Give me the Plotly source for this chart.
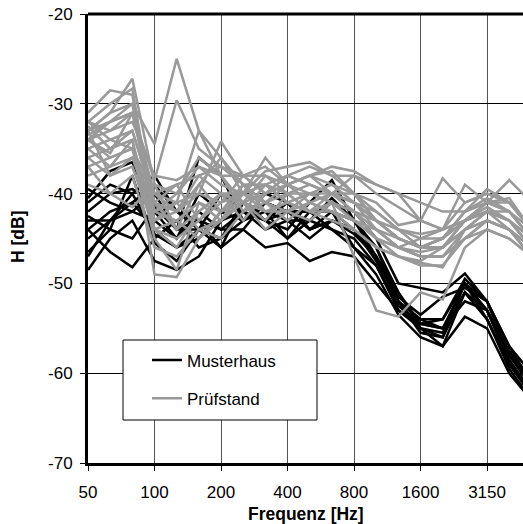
import plotly.graph_objects as go

freqs = ["50", "63", "80", "100", "125", "160", "200", "250", "315", "400", "500",
         "630", "800", "1000", "1250", "1600", "2000", "2500", "3150", "4000", "5000"]
tick_labels = ["50", "100", "200", "400", "800", "1600", "3150"]
y_ticks = [-70, -60, -50, -40, -30, -20]
y_tick_labels = ["-70", "-60", "-50", "-40", "-30", "-20"]

musterhaus = [
    [-40.5, -37.5, -36.5, -42, -45, -40, -42, -43, -41, -42, -43, -40.5, -43, -46, -51, -55, -55.5, -50, -52, -58, -61],
    [-44, -42, -41, -39, -42, -44, -40, -42, -43, -41, -44, -42, -44, -47, -52, -55.5, -56, -51, -53, -58.5, -62],
    [-46.5, -44, -38, -45.5, -47.5, -44, -46, -41, -42, -45, -43, -41, -42, -45, -50, -50.5, -51, -48.9, -52, -57, -60],
    [-48.5, -45, -43, -47.5, -48.5, -47, -43, -42, -44, -43, -43, -44, -45, -48, -53, -55, -57, -51, -54, -59, -62.5],
    [-42, -40, -39.5, -41, -44, -36, -38, -43, -41, -42, -42, -44, -46, -48, -52.5, -54.5, -54, -49.5, -52, -58, -61],
    [-39.5, -41, -42, -40, -44, -44, -45, -43, -42, -43, -45, -43, -44, -47, -51.5, -53.5, -51.5, -50.5, -52, -57, -61],
    [-44, -46.5, -48.2, -45, -43, -46, -45, -41, -43, -44, -41, -38.5, -43, -46, -52, -55, -56, -50, -53, -59, -62],
    [-41, -39, -40, -38, -42, -43, -46, -44, -46, -45.5, -47.5, -46.5, -47, -50, -53, -54.5, -55, -51, -54, -59.5, -63],
    [-42.5, -44, -45, -41.5, -44, -43, -44, -44, -41, -42, -44, -43, -44, -47.5, -52, -54, -55, -52, -53, -57.5, -61],
    [-45, -43, -42, -43, -45, -42, -44, -42, -43, -42, -42, -42, -43, -47, -52, -54, -54, -50, -53, -58, -61.5],
    [-43, -43, -40, -44.5, -46, -45, -42, -43, -40, -41, -44, -43, -44.5, -47, -51, -54.5, -55, -50, -54, -59, -62],
    [-47, -43, -41, -44, -46, -44, -43, -41, -43, -45, -42, -42, -46, -49, -53.5, -56, -57, -53.7, -55, -60, -63],
]

pruefstand = [
    [-33, -32, -30, -34.5, -25, -33, -38, -38, -40, -38, -39, -40, -40, -42, -44, -45, -45, -42, -41, -42, -45],
    [-34, -33, -31, -38.5, -29.6, -35, -37, -39, -41, -39, -38, -40, -42, -43, -45, -46, -45, -43, -42, -43, -46],
    [-33, -31, -27.2, -39, -40, -37, -38, -41, -38, -40, -40, -39, -41, -42, -44, -44.5, -44, -41, -40, -41, -44],
    [-31, -28.5, -29, -42, -41, -33, -36, -39, -39, -38, -37, -38, -40, -43, -45, -46, -46, -43, -41.5, -43, -45],
    [-32, -30, -28.3, -43, -42, -40, -34.2, -38, -38, -39, -40, -40, -41, -43, -44, -46, -46, -43, -42, -42, -45],
    [-33.5, -32, -31, -40, -39, -43, -40, -40, -36, -39, -38, -37.5, -40, -43, -45, -46, -45, -42, -40.5, -42, -44],
    [-35, -34, -33, -41, -42, -38, -40, -41, -40, -39, -38, -39, -40, -41, -43.5, -43, -38.3, -41, -40, -41, -44],
    [-32.5, -35, -34, -44, -43, -45, -42, -39, -41, -40, -42, -40, -38, -40, -41.5, -43, -44, -43, -41, -40.5, -44],
    [-34, -36, -35, -45, -48.5, -41, -43, -39, -42, -41, -40, -41, -42, -44, -46, -47, -47, -45, -43, -44, -47],
    [-36, -35, -33, -41, -44, -39, -36, -40, -37.5, -37, -36.5, -38, -38, -39, -40, -43, -44, -39, -41, -38.5, -41],
    [-38, -37, -34, -49, -49.3, -45, -43, -40, -42, -41, -42, -43, -44, -46, -47, -48, -48, -45, -44, -45, -47],
    [-33, -38, -36, -40, -41, -44, -45, -42, -41, -43, -41, -40, -42, -45, -47, -47.5, -46, -44, -43, -44, -46],
    [-37, -40, -41.5, -39, -44, -42, -40, -41, -42, -42, -43, -41, -43, -45, -46, -47, -47, -44, -42, -43, -46],
    [-34, -35.5, -31, -42, -40, -36, -38, -42, -39, -40, -39, -40, -41, -44, -46, -46.5, -46, -43, -42, -44, -47],
    [-35, -37, -36, -43, -41, -40, -41, -38, -40, -39, -41, -42, -43, -44, -45, -46, -45, -43, -42, -43, -45],
    [-32, -33, -32, -38, -38.5, -37, -39, -40, -39, -41, -40, -41, -43, -45, -46, -45, -44, -43, -41, -41, -44],
    [-33, -31, -30, -44, -46, -42, -40, -43, -40, -38, -39, -40, -41, -43, -45, -46, -45, -42, -41, -42, -45],
    [-36, -38, -37, -44, -45, -43, -41, -40, -41, -42, -40, -41, -47, -53, -53.7, -51, -51.8, -46, -44, -45, -47],
    [-37, -36, -35, -42, -43, -41, -42, -41, -43, -40, -42, -42, -44, -46, -47, -47.7, -48.2, -44, -43, -44, -46],
    [-34, -32, -31, -41, -39, -38, -37, -38, -37, -39, -38, -37, -37.5, -39, -40, -41, -42, -42, -39.5, -41, -44],
    [-39, -40, -38, -46, -47, -44, -43, -41, -44, -42, -41, -42, -43, -44, -46, -47, -47, -45, -43, -44, -46],
    [-32, -34, -35, -40, -42, -39, -42, -40, -39, -41, -42, -41, -42, -43, -45, -46, -46, -44, -42, -43, -46],
]

fig = go.Figure()
for i, ys in enumerate(musterhaus):
    fig.add_trace(go.Scatter(x=freqs, y=ys, mode="lines", name="Musterhaus",
                             line=dict(color="black", width=2.5),
                             legendgroup="m", showlegend=(i == 0)))
for i, ys in enumerate(pruefstand):
    fig.add_trace(go.Scatter(x=freqs, y=ys, mode="lines", name="Prüfstand",
                             line=dict(color="#999999", width=2.5),
                             legendgroup="p", showlegend=(i == 0)))

W, H = 523, 524
L, T = 88, 14
R_EDGE = 523        # plot area right edge (chart is cropped there)
B_EDGE = 463        # plot area bottom
plot_w = R_EDGE - L
plot_h = B_EDGE - T
step = 22.17        # px per third-octave band


def px(sx):
    return (sx - L) / plot_w


def py(sy):
    return (B_EDGE - sy) / plot_h


FAM = "Liberation Sans, Arial, sans-serif"
font = dict(family=FAM, size=17, color="black")
bold = dict(family=FAM, size=17.5, color="black")

fig.update_layout(
    width=W, height=H,
    margin=dict(l=L, r=W - R_EDGE, t=T, b=H - B_EDGE),
    paper_bgcolor="white", plot_bgcolor="white",
    font=font,
    xaxis=dict(type="category", range=[0, plot_w / step],
               tickvals=tick_labels, ticktext=tick_labels,
               showgrid=True, gridcolor="#555555", gridwidth=1,
               showline=True, linecolor="black", linewidth=3,
               ticks="outside", ticklen=5, tickcolor="black", tickwidth=1,
               ticklabelstandoff=7, zeroline=False, automargin=False),
    yaxis=dict(range=[-70, -20], tickvals=y_ticks, ticktext=y_tick_labels,
               showgrid=True, gridcolor="black", gridwidth=1,
               showline=True, linecolor="black", linewidth=3,
               ticks="outside", ticklen=5, tickcolor="black", tickwidth=1,
               ticklabelstandoff=4, zeroline=False, automargin=False),
    showlegend=True,
    legend=dict(x=px(147), y=py(342.5),
                xanchor="left", yanchor="top",
                bgcolor="rgba(0,0,0,0)", borderwidth=0,
                traceorder="grouped", tracegroupgap=13,
                font=font),
    shapes=[
        dict(type="line", xref="paper", yref="paper", x0=0, x1=1, y0=1, y1=1,
             line=dict(color="black", width=3)),
        dict(type="rect", xref="paper", yref="paper",
             x0=px(123), x1=px(317), y0=py(420), y1=py(340),
             line=dict(color="black", width=1), fillcolor="white", layer="above"),
    ],
    annotations=[
        dict(text="<b>Frequenz [Hz]</b>", xref="paper", yref="paper",
             x=px(306), y=py(514), xanchor="center", yanchor="middle",
             showarrow=False, font=bold),
        dict(text="<b>H [dB]</b>", xref="paper", yref="paper",
             x=px(18), y=py(237), xanchor="center", yanchor="middle",
             showarrow=False, textangle=-90, font=bold),
    ],
)

fig.write_html("out.html", config={"displayModeBar": False},
               post_script="document.body.style.margin='0px';")
